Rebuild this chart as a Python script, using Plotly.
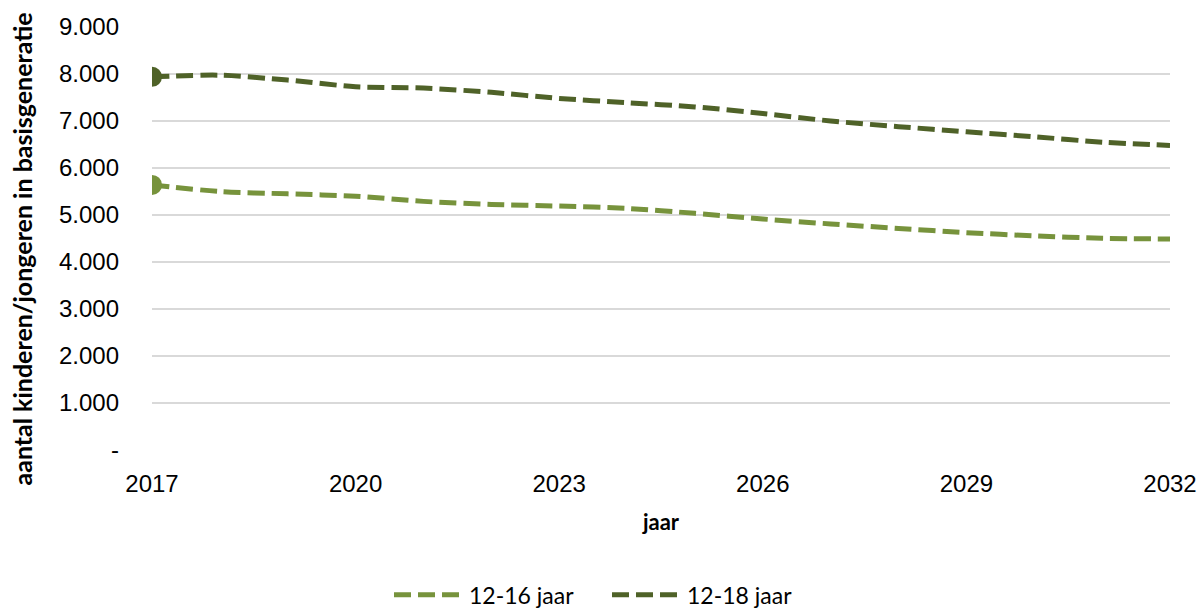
import plotly.graph_objects as go

years = list(range(2017, 2033))
s_12_16 = [5640, 5500, 5450, 5400, 5290, 5225, 5190, 5140, 5035, 4915, 4810, 4715, 4625, 4555, 4505, 4490]
s_12_18 = [7940, 7975, 7870, 7730, 7700, 7610, 7480, 7390, 7300, 7160, 7000, 6880, 6770, 6665, 6550, 6480]
series_names = ["12-16 jaar", "12-18 jaar"]
colors = ["#77933C", "#4F6228"]
y_ticks = [0, 1000, 2000, 3000, 4000, 5000, 6000, 7000, 8000, 9000]
y_ticktext = ["-", "1.000", "2.000", "3.000", "4.000", "5.000", "6.000", "7.000", "8.000", "9.000"]
x_ticks = [2017, 2020, 2023, 2026, 2029, 2032]
y_title = "aantal kinderen/jongeren in basisgeneratie"
x_title = "jaar"

fig = go.Figure()
for name, vals, col in zip(series_names, [s_12_16, s_12_18], colors):
    fig.add_trace(go.Scatter(
        x=years, y=vals, name=name, mode="lines",
        line=dict(color=col, width=5, dash="17px,7px", shape="spline", smoothing=0.8),
        hoverinfo="skip",
    ))
    fig.add_trace(go.Scatter(
        x=[years[0]], y=[vals[0]], mode="markers", showlegend=False,
        marker=dict(color=col, size=20), hoverinfo="skip",
    ))

fig.add_annotation(
    text="<b>" + y_title + "</b>", xref="paper", yref="paper",
    x=0, y=0.474, xanchor="center", yanchor="middle", xshift=-130,
    textangle=-90, showarrow=False,
    font=dict(family="Lato", size=25, color="#000000"),
)

fig.update_layout(
    width=1202, height=610,
    paper_bgcolor="white", plot_bgcolor="white",
    margin=dict(l=152, r=32, t=27, b=160, autoexpand=False),
    font=dict(family="Liberation Sans, Arial", size=24, color="#000000"),
    xaxis=dict(
        range=[2017, 2032], tickvals=x_ticks, ticks="", showgrid=False,
        zeroline=False, showline=False, ticklabelstandoff=17, automargin=False,
        title=dict(text="<b>" + x_title + "</b>", font=dict(family="Lato", size=22), standoff=18),
        tickfont=dict(family="Liberation Sans, Arial", size=24),
    ),
    yaxis=dict(
        range=[0, 9000], tickvals=y_ticks, ticktext=y_ticktext,
        showgrid=True, gridcolor="#D9D9D9", gridwidth=2, zeroline=False,
        showline=False, ticks="", ticklabelstandoff=32, automargin=False,
        tickfont=dict(family="Liberation Sans, Arial", size=24),
    ),
    legend=dict(
        orientation="h", xref="container", yref="container",
        x=0.505, xanchor="center", y=0.025, yanchor="middle",
        font=dict(family="Lato", size=23), itemwidth=70, entrywidth=133,
    ),
    showlegend=True,
)

fig.write_html("out.html", config={"displayModeBar": False},
               post_script="document.body.style.margin='0';document.body.style.overflow='hidden';")
